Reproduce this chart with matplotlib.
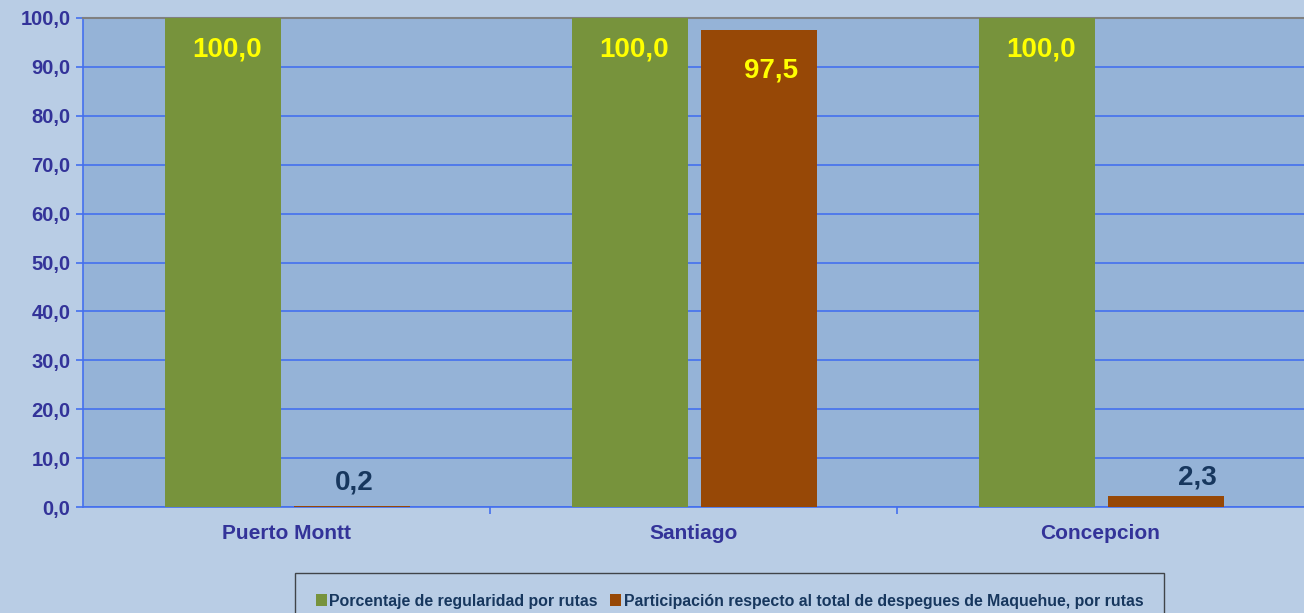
import numpy as np
import matplotlib.pyplot as plt
from matplotlib.ticker import FuncFormatter

plt.rcParams['font.family'] = ['Liberation Sans', 'DejaVu Sans']
plt.rcParams['font.weight'] = 'bold'

# datos
rutas = ['Puerto Montt', 'Santiago', 'Concepcion']
regularidad = [100.0, 100.0, 100.0]
participacion = [0.2, 97.5, 2.3]
series = ['Porcentaje de regularidad por rutas',
          'Participación respecto al total de despegues de Maquehue, por rutas']

verde = '#77933C'
naranjo = '#974806'
fondo = '#B9CDE5'
area = '#95B3D7'
azul = '#333399'
grilla = '#4470EE'

fig = plt.figure(figsize=(13.04, 6.13), dpi=100, facecolor=fondo)
ax = fig.add_axes([83 / 1304, 1 - 507 / 613, 1 - 83 / 1304, (507 - 18) / 613])
ax.set_facecolor(area)

x = np.arange(len(rutas))
w = 0.285
b1 = ax.bar(x - 0.157, regularidad, w, color=verde, label=series[0], zorder=3)
b2 = ax.bar(x + 0.160, participacion, w, color=naranjo, label=series[1], zorder=3)

ax.set_xlim(-0.5, 2.5)
ax.set_ylim(0, 100)
ax.set_yticks(np.arange(0, 101, 10))
ax.yaxis.set_major_formatter(FuncFormatter(lambda v, p: ('%.1f' % v).replace('.', ',')))
ax.grid(axis='y', color=grilla, linewidth=1.2, zorder=1)
ax.set_axisbelow(True)

ax.set_xticks(x)
ax.set_xticklabels(rutas)
ax.set_xticks([0.5, 1.5], minor=True)
ax.tick_params(axis='x', which='major', length=0, pad=12, labelsize=15, labelcolor=azul)
ax.tick_params(axis='x', which='minor', length=5, color=grilla, width=1.2)
ax.tick_params(axis='y', length=5, color=grilla, width=1.2, labelsize=14.5, labelcolor=azul, pad=4)
for t in ax.get_xticklabels() + ax.get_yticklabels():
    t.set_fontweight('bold')

ax.spines['left'].set_color(grilla)
ax.spines['left'].set_linewidth(1.2)
ax.spines['bottom'].set_color(grilla)
ax.spines['bottom'].set_linewidth(1.2)
ax.spines['top'].set_color('#808080')
ax.spines['top'].set_linewidth(1.5)
ax.spines['right'].set_visible(False)

# etiquetas de datos
for i, v in enumerate(regularidad):
    ax.annotate(('%.1f' % v).replace('.', ','), (x[i] - 0.157, v), xytext=(3, -23),
                textcoords='offset points', ha='center', va='center',
                color='#FFFF00', fontsize=20, fontweight='bold', zorder=4)
for i, v in enumerate(participacion):
    txt = ('%.1f' % v).replace('.', ',')
    if v > 50:
        ax.annotate(txt, (x[i] + 0.160, v), xytext=(9, -29),
                    textcoords='offset points', ha='center', va='center',
                    color='#FFFF00', fontsize=20, fontweight='bold', zorder=4)
    else:
        dx, dy = (2, 17) if i == 0 else (23, 13)
        ax.annotate(txt, (x[i] + 0.160, v), xytext=(dx, dy),
                    textcoords='offset points', ha='center', va='center',
                    color='#17375E', fontsize=20, fontweight='bold', zorder=4)

leg = fig.legend(handles=[b1, b2], loc='upper left',
                 bbox_to_anchor=(295 / 1304, 1 - 573 / 613), borderaxespad=0,
                 ncol=2, frameon=True, fancybox=False, edgecolor='#222222',
                 facecolor=fondo, handlelength=0.7, handleheight=0.7,
                 handletextpad=0.15, columnspacing=0.8, borderpad=1.3,
                 prop={'weight': 'bold', 'size': 11.4})
leg.get_frame().set_linewidth(1.0)
for t in leg.get_texts():
    t.set_color('#17375E')

fig.savefig('out.png', dpi=100, facecolor=fondo)
